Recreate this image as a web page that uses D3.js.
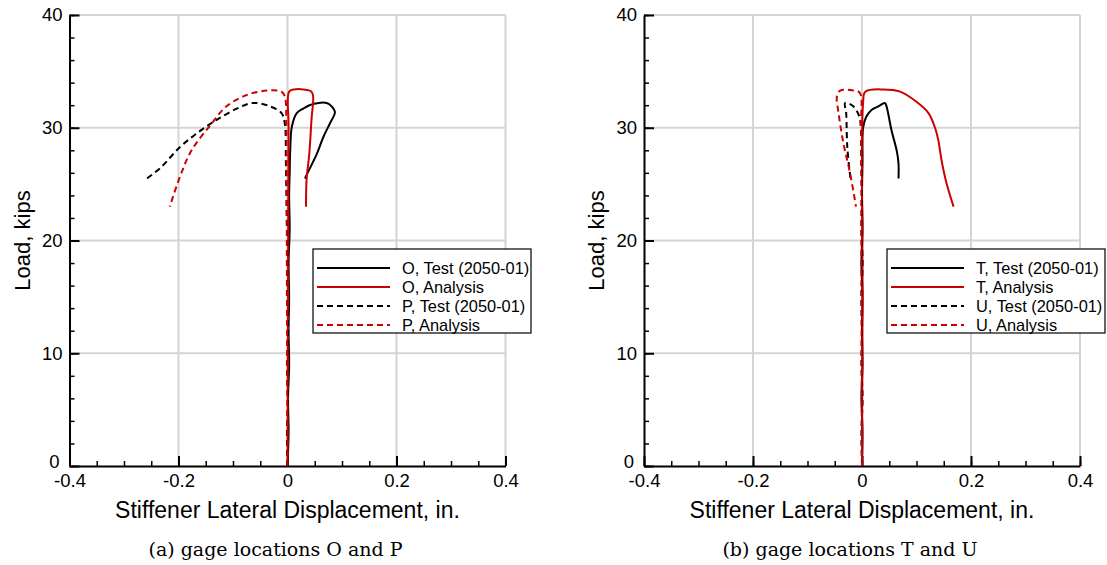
<!DOCTYPE html>
<html>
<head>
<meta charset="utf-8">
<script src="https://cdn.jsdelivr.net/npm/d3@7"></script>
<style>
body { margin: 0; background: #fff; }
text { font-family: "Liberation Sans", Arial, sans-serif; fill: #000; }
.caption { font-family: "DejaVu Serif", "Liberation Serif", serif; }
</style>
</head>
<body>
<svg id="chart" width="1107" height="565"></svg>
<script>
// axis ticks
var xTicks = [-0.4, -0.2, 0, 0.2, 0.4];
var yTicks = [0, 10, 20, 30, 40];

// (a) gage O, test
var oTestDisp = [0, 0.002, 0.001, 0.003, 0.002, 0.003, 0.002, 0.004, 0.003, 0.004, 0.005, 0.008, 0.017, 0.029, 0.047, 0.072, 0.081, 0.087, 0.078, 0.066, 0.054, 0.041, 0.032];
var oTestLoad = [0, 3, 6, 9, 12, 15, 18, 21, 24, 26, 28, 30.1, 31.3, 31.7, 32.1, 32.2, 31.9, 31.4, 30.4, 29.2, 27.7, 26.4, 25.5];
// gage O, analysis
var oAnaDisp = [0, 0.001, 0.002, 0.003, 0.012, 0.029, 0.044, 0.047, 0.044, 0.040, 0.035, 0.034];
var oAnaLoad = [0, 15, 30, 33.2, 33.4, 33.4, 33.2, 32.8, 30.7, 27.7, 25.4, 23.0];
// gage P, test
var pTestDisp = [0, -0.001, 0.001, -0.001, 0.001, -0.001, 0, -0.001, -0.002, -0.003, -0.005, -0.011, -0.032, -0.063, -0.093, -0.130, -0.161, -0.197, -0.234, -0.261];
var pTestLoad = [0, 3, 6, 9, 12, 15, 18, 21, 24, 27, 30.4, 31.3, 31.9, 32.2, 31.7, 30.7, 29.7, 28.3, 26.4, 25.4];
// gage P, analysis
var pAnaDisp = [0, -0.001, -0.002, -0.003, -0.005, -0.011, -0.038, -0.075, -0.112, -0.142, -0.176, -0.197, -0.216];
var pAnaLoad = [0, 15, 30, 32.2, 32.8, 33.2, 33.3, 32.9, 31.9, 30.2, 28.0, 25.7, 23.0];

// (b) gage T, test
var tTestDisp = [0, 0.001, -0.001, 0.001, 0, 0.001, -0.001, 0.001, 0, 0.001, 0.002, 0.008, 0.018, 0.030, 0.042, 0.045, 0.054, 0.064, 0.067, 0.067];
var tTestLoad = [0, 3, 6, 9, 12, 15, 18, 21, 24, 27, 30, 31, 31.6, 31.9, 32.2, 31.9, 29.8, 27.9, 26.8, 25.5];
// gage T, analysis
var tAnaDisp = [0, 0.001, 0.002, 0.006, 0.039, 0.070, 0.100, 0.122, 0.134, 0.140, 0.146, 0.155, 0.168];
var tAnaLoad = [0, 15, 32.2, 33.2, 33.4, 33.2, 32.3, 31.3, 30.0, 28.9, 27.1, 25.1, 23.0];
// gage U, test
var uTestDisp = [0, -0.001, 0.001, -0.001, 0, -0.001, 0.001, -0.001, 0, -0.001, -0.002, -0.005, -0.016, -0.031, -0.029, -0.027, -0.021];
var uTestLoad = [0, 3, 6, 9, 12, 15, 18, 21, 24, 27, 30, 31.0, 31.9, 32.2, 31.3, 28.3, 25.4];
// gage U, analysis
var uAnaDisp = [0, -0.001, -0.002, -0.004, -0.016, -0.040, -0.046, -0.043, -0.034, -0.022, -0.011];
var uAnaLoad = [0, 15, 30, 33.1, 33.3, 33.3, 32.8, 31.3, 28.6, 26.0, 23.0];

var black = "#000";
var red = "#cc0000";

function zipPts(xs, ys) {
    return xs.map(function (x, i) { return [x, ys[i]]; });
}

var panels = [
    {left: 69.5, caption: "(a) gage locations O and P", legendX: 313,
     series: [
        {name: "O, Test (2050-01)", color: black, dash: null, pts: zipPts(oTestDisp, oTestLoad)},
        {name: "O, Analysis", color: red, dash: null, pts: zipPts(oAnaDisp, oAnaLoad)},
        {name: "P, Test (2050-01)", color: black, dash: "6,4", pts: zipPts(pTestDisp, pTestLoad)},
        {name: "P, Analysis", color: red, dash: "6,4", pts: zipPts(pAnaDisp, pAnaLoad)}
     ]},
    {left: 644, caption: "(b) gage locations T and U", legendX: 887,
     series: [
        {name: "T, Test (2050-01)", color: black, dash: null, pts: zipPts(tTestDisp, tTestLoad)},
        {name: "T, Analysis", color: red, dash: null, pts: zipPts(tAnaDisp, tAnaLoad)},
        {name: "U, Test (2050-01)", color: black, dash: "6,4", pts: zipPts(uTestDisp, uTestLoad)},
        {name: "U, Analysis", color: red, dash: "6,4", pts: zipPts(uAnaDisp, uAnaLoad)}
     ]}
];

var plotW = 436, plotTop = 15, plotBottom = 466;
var svg = d3.select("#chart");

panels.forEach(function (p) {
    var x = d3.scaleLinear().domain([-0.4, 0.4]).range([p.left, p.left + plotW]);
    var y = d3.scaleLinear().domain([0, 40]).range([plotBottom, plotTop]);
    var g = svg.append("g");

    // grid
    g.selectAll(".gx").data(xTicks.slice(1)).enter().append("line")
        .attr("x1", function (d) { return x(d); }).attr("x2", function (d) { return x(d); })
        .attr("y1", plotTop).attr("y2", plotBottom)
        .attr("stroke", "#d4d4d4").attr("stroke-width", 2);
    g.selectAll(".gy").data(yTicks.slice(1)).enter().append("line")
        .attr("y1", function (d) { return y(d); }).attr("y2", function (d) { return y(d); })
        .attr("x1", p.left).attr("x2", p.left + plotW)
        .attr("stroke", "#d4d4d4").attr("stroke-width", 2);

    // minor ticks
    g.append("g").attr("transform", "translate(0," + plotBottom + ")")
        .call(d3.axisBottom(x).ticks(16).tickSizeInner(-5).tickSizeOuter(0).tickFormat(""))
        .call(function (a) { a.select(".domain").remove(); a.selectAll("line").attr("stroke-width", 1.5); });
    g.append("g").attr("transform", "translate(" + p.left + ",0)")
        .call(d3.axisLeft(y).ticks(20).tickSizeInner(-5).tickSizeOuter(0).tickFormat(""))
        .call(function (a) { a.select(".domain").remove(); a.selectAll("line").attr("stroke-width", 1.5); });

    // major axes
    var xa = g.append("g").attr("transform", "translate(0," + plotBottom + ")")
        .call(d3.axisBottom(x).tickValues(xTicks).tickSizeInner(-10).tickSizeOuter(0).tickPadding(8)
            .tickFormat(function (d) { return d === 0 ? "0" : d3.format(".1f")(d).replace("−", "-"); }));
    xa.selectAll("text").style("font-size", "18.5px").attr("fill", "#000");
    var ya = g.append("g").attr("transform", "translate(" + p.left + ",0)")
        .call(d3.axisLeft(y).tickValues(yTicks).tickSizeInner(-10).tickSizeOuter(0).tickPadding(7));
    ya.selectAll("text").style("font-size", "18.5px").attr("fill", "#000");
    // the 0 label sits a little above the corner so it clears the x labels
    ya.selectAll(".tick").filter(function (d) { return d === 0; }).select("text")
        .attr("y", -4).attr("x", -10);
    [xa, ya].forEach(function (a) {
        a.select(".domain").attr("stroke", "#000").attr("stroke-width", 2);
        a.selectAll("line").attr("stroke", "#000").attr("stroke-width", 2);
    });

    // curves
    var line = d3.line()
        .x(function (d) { return x(d[0]); })
        .y(function (d) { return y(d[1]); })
        .curve(d3.curveCatmullRom.alpha(0.5));
    p.series.forEach(function (s) {
        g.append("path").attr("d", line(s.pts))
            .attr("fill", "none").attr("stroke", s.color).attr("stroke-width", 2)
            .attr("stroke-dasharray", s.dash);
    });

    // legend
    var lg = g.append("g").attr("transform", "translate(" + p.legendX + ",249)");
    lg.append("rect").attr("width", 218).attr("height", 84)
        .attr("fill", "#fff").attr("stroke", "#000").attr("stroke-width", 1.2);
    p.series.forEach(function (s, i) {
        var yy = 19 + i * 19;
        lg.append("line").attr("x1", 4).attr("x2", 77).attr("y1", yy).attr("y2", yy)
            .attr("stroke", s.color).attr("stroke-width", 2).attr("stroke-dasharray", s.dash);
        lg.append("text").attr("x", 89).attr("y", yy + 6).style("font-size", "16.4px").text(s.name);
    });

    // titles
    var cx = p.left + plotW / 2;
    g.append("text").attr("x", cx).attr("y", 518).attr("text-anchor", "middle")
        .style("font-size", "23px").text("Stiffener Lateral Displacement, in.");
    g.append("text").attr("transform", "translate(" + (p.left - 40) + "," + ((plotTop + plotBottom) / 2) + ") rotate(-90)")
        .attr("text-anchor", "middle").style("font-size", "22px").text("Load, kips");
    g.append("text").attr("class", "caption").attr("x", cx - 12).attr("y", 556).attr("text-anchor", "middle")
        .style("font-size", "19px").text(p.caption);
});
</script>
</body>
</html>
